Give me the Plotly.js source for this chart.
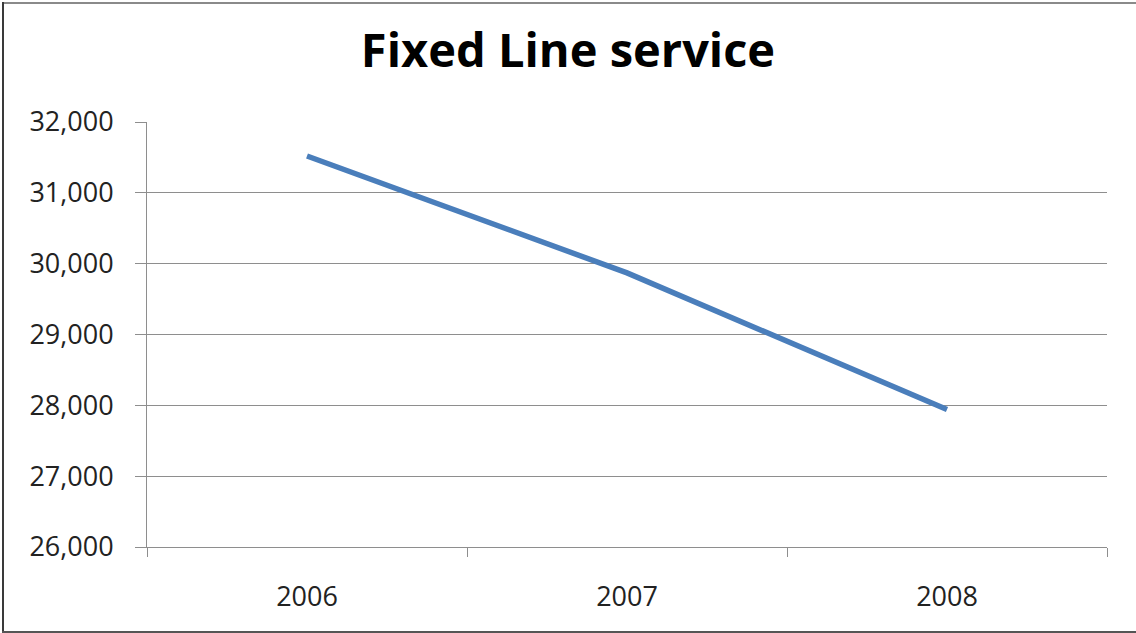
<!DOCTYPE html>
<html>
<head>
<meta charset="utf-8">
<script src="https://cdn.plot.ly/plotly-3.0.1.min.js"></script>
<style>
  html, body { margin: 0; padding: 0; background: #fff; overflow: hidden; }
  #chart { position: absolute; left: 0; top: 0; width: 1136px; height: 633px; }
  .edge { position: absolute; pointer-events: none; }
  #edgeTop { left: 2px; top: 2px; width: 1134px; height: 2px; background: #8a8a8a; }
  #edgeLeft { left: 2px; top: 2px; width: 2px; height: 630px; background: #3a3a3a; }
  #edgeBottom { left: 2px; top: 631px; width: 1134px; height: 2px; background: #555; }
</style>
</head>
<body>
<div id="chart"></div>
<div class="edge" id="edgeTop"></div>
<div class="edge" id="edgeLeft"></div>
<div class="edge" id="edgeBottom"></div>
<script>
// Fixed line subscriptions per year
const years = ['2006', '2007', '2008'];
const subscribers = [31520, 29870, 27940];
const yTicks = [26000, 27000, 28000, 29000, 30000, 31000, 32000];
const yTickText = ['26,000', '27,000', '28,000', '29,000', '30,000', '31,000', '32,000'];

const font = 'Open Sans, Noto Sans, sans-serif';
const axisGray = '#8e8e8e';

Plotly.newPlot('chart', [{
  type: 'scatter',
  mode: 'lines',
  x: years,
  y: subscribers,
  line: { color: '#4a7ebb', width: 5.5 },
  hoverinfo: 'x+y'
}], {
  width: 1136,
  height: 633,
  margin: { l: 147, r: 29, t: 122, b: 86 },
  paper_bgcolor: '#fff',
  plot_bgcolor: '#fff',
  showlegend: false,
  title: {
    text: '<b>Fixed Line service</b>',
    font: { family: font, size: 47, color: '#000' },
    x: 0.5, xref: 'container', xanchor: 'center',
    y: 0.92, yref: 'container', yanchor: 'middle'
  },
  xaxis: {
    type: 'category',
    range: [-0.5, 2.5],
    tickson: 'boundaries',
    ticks: 'outside',
    ticklen: 9,
    tickwidth: 1,
    tickcolor: axisGray,
    showline: true,
    linecolor: axisGray,
    linewidth: 1,
    showgrid: false,
    zeroline: false,
    ticklabelstandoff: 26,
    tickfont: { family: font, size: 27, color: '#222' }
  },
  yaxis: {
    range: [26000, 32000],
    tickvals: yTicks,
    ticktext: yTickText,
    ticks: 'outside',
    ticklen: 11,
    tickwidth: 1,
    tickcolor: axisGray,
    showline: true,
    linecolor: axisGray,
    linewidth: 1,
    showgrid: true,
    gridcolor: axisGray,
    gridwidth: 1,
    zeroline: false,
    ticklabelstandoff: 16,
    tickfont: { family: font, size: 27, color: '#222' }
  }
}, { displayModeBar: false, staticPlot: true });
</script>
</body>
</html>
